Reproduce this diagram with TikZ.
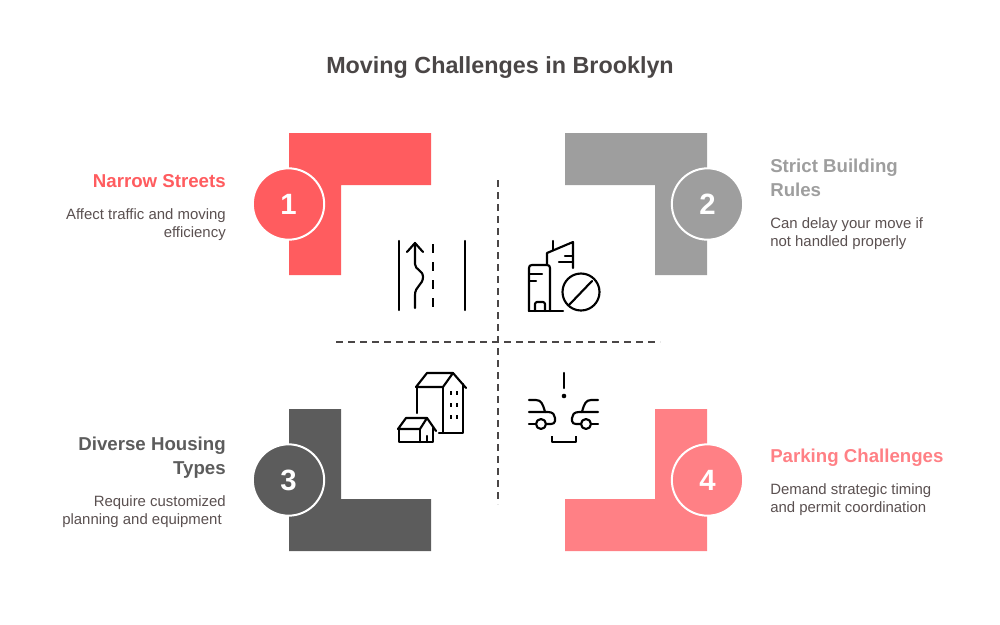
\documentclass[tikz,border=0pt]{standalone}
\usepackage{fontspec}
\setmainfont{Liberation Sans}
\definecolor{cred}{HTML}{FF5C5F}
\definecolor{cgray}{HTML}{9E9E9E}
\definecolor{cdark}{HTML}{5C5C5C}
\definecolor{cpink}{HTML}{FF8085}
\definecolor{ctitle}{HTML}{4A4646}
\definecolor{cbody}{HTML}{5A5050}
\tikzset{
  numdisc/.style={circle,draw=white,line width=1.5pt,minimum size=53.5pt,inner sep=0pt,text=white,font=\fontsize{22}{24}\selectfont\bfseries},
  headr/.style={anchor=north east,align=right,inner sep=0pt,font=\fontsize{14}{18}\selectfont\bfseries},
  headl/.style={anchor=north west,align=left,inner sep=0pt,font=\fontsize{14}{18}\selectfont\bfseries},
  bodyr/.style={anchor=north east,align=right,inner sep=0pt,text=cbody,font=\fontsize{11.2}{13.5}\selectfont},
  bodyl/.style={anchor=north west,align=left,inner sep=0pt,text=cbody,font=\fontsize{11.2}{13.5}\selectfont},
  axis line/.style={draw=ctitle,line width=1.1pt,dash pattern=on 5.25pt off 3.75pt},
  icon/.style={draw=black,line width=1.6pt,line cap=round,line join=round},
}
\begin{document}
\begin{tikzpicture}[x=0.75pt,y=-0.75pt]
\useasboundingbox (0,0) rectangle (1000,625);
\node[anchor=center,inner sep=0pt,text=ctitle,font=\fontsize{17.5}{22}\selectfont\bfseries] (title) at (500,68) {Moving Challenges in Brooklyn};
% L-shaped bands
\fill[cred] (289,133)--(431,133)--(431,185)--(341,185)--(341,275)--(289,275)--cycle;
\fill[cgray] (707,133)--(565,133)--(565,185)--(655,185)--(655,275)--(707,275)--cycle;
\fill[cdark] (289,551)--(431,551)--(431,499)--(341,499)--(341,409)--(289,409)--cycle;
\fill[cpink] (707,551)--(565,551)--(565,499)--(655,499)--(655,409)--(707,409)--cycle;
% Discs
\node[numdisc,fill=cred] (n1) at (288.5,204) {1};
\node[numdisc,fill=cgray] (n2) at (707.5,204) {2};
\node[numdisc,fill=cdark] (n3) at (288.5,480) {3};
\node[numdisc,fill=cpink] (n4) at (707.5,480) {4};
% Axes
\coordinate (vt) at (498,180); \coordinate (vb) at (498,504);
\coordinate (hl) at (336,342); \coordinate (hr) at (660,342);
\draw[axis line] (vt)--(vb);
\draw[axis line] (hl)--(hr);
% Text
\node[headr,text=cred] (h1) at (226,174) {Narrow Streets};
\node[bodyr] (b1) at (226,208) {Affect traffic and moving\\efficiency};
\node[headl,text=cgray] (h2) at (770,159) {Strict Building\\Rules};
\node[bodyl] (b2) at (770,217) {Can delay your move if\\not handled properly};
\node[headr,text=cdark] (h3) at (226,437) {Diverse Housing\\Types};
\node[bodyr] (b3) at (226,495) {Require customized\\planning and equipment\hspace*{3pt}};
\node[headl,text=cpink] (h4) at (770,449) {Parking Challenges};
\node[bodyl] (b4) at (770,483) {Demand strategic timing\\and permit coordination};
% Icon 1: road
\begin{scope}[icon]
\draw (399,241)--(399,310);
\draw (465,241)--(465,310);
\draw[dash pattern=on 6.5pt off 7pt,line cap=butt] (433,244)--(433,308);
\draw (407,252)--(415,243)--(423,252);
\draw (415,243)--(415,264) .. controls (415,270) and (423,270) .. (423,277) .. controls (423,285) and (415,286) .. (415,295)--(415,308);
% Icon 2: buildings
\draw (529,311)--(563,311);
\draw (529,311)--(529,268) .. controls (529,266) and (530,265) .. (532,265)--(547,265) .. controls (549,265) and (550,266) .. (550,268)--(550,311);
\draw (530,274)--(542,274);
\draw (530,281)--(536,281);
\draw (535,311)--(535,304) .. controls (535,303) and (536,302) .. (537,302)--(543,302) .. controls (544,302) and (545,303) .. (545,304)--(545,311);
\draw (547,265)--(547,253)--(573,242)--(573,268);
\draw (553,241)--(553,250);
\draw (565,256)--(573,256);
\draw (559,262)--(573,262);
\draw (581,292) circle[radius=18.5];
\draw (569,305)--(592,281);
% Icon 3: houses
\draw (416,387)--(427,373)--(453,373)--(443,387)--cycle;
\draw (453,373)--(466,388);
\draw (417,387)--(417,413);
\draw (443,387)--(443,433);
\draw (439,433)--(463,433)--(463,384);
\foreach \wx in {451,457}{\foreach \wy in {391,403,415}{
  \draw[line width=1.3pt,line cap=butt] (\wx,\wy)--(\wx,\wy+4);}}
\draw (398,429)--(406,418)--(427,418)--(420,429)--cycle;
\draw (427,418)--(436,431);
\draw (399,429)--(399,442)--(433,442)--(433,428);
\draw (420,429)--(420,442);
\draw (427,442)--(427,436);
% Icon 4: cars
\draw (564,373)--(564,388);
\fill[black] (564,396) circle[radius=2.3];
\draw (529,400)--(536,400) .. controls (541,400) and (543,404) .. (545,412);
\draw (529,412)--(548,412) .. controls (553,412) and (555,415) .. (555,418)--(555,421) .. controls (555,423) and (553,424) .. (551,424)--(546,424);
\draw (529,424)--(536,424);
\draw (541,424) circle[radius=5];
\draw (598,400)--(591,400) .. controls (586,400) and (584,404) .. (582,412);
\draw (598,412)--(579,412) .. controls (574,412) and (572,415) .. (572,418)--(572,421) .. controls (572,423) and (574,424) .. (576,424)--(581,424);
\draw (598,424)--(591,424);
\draw (586,424) circle[radius=5];
\draw[line cap=butt] (552,436)--(552,442)--(576,442)--(576,436);
\end{scope}
\end{tikzpicture}
\end{document}
